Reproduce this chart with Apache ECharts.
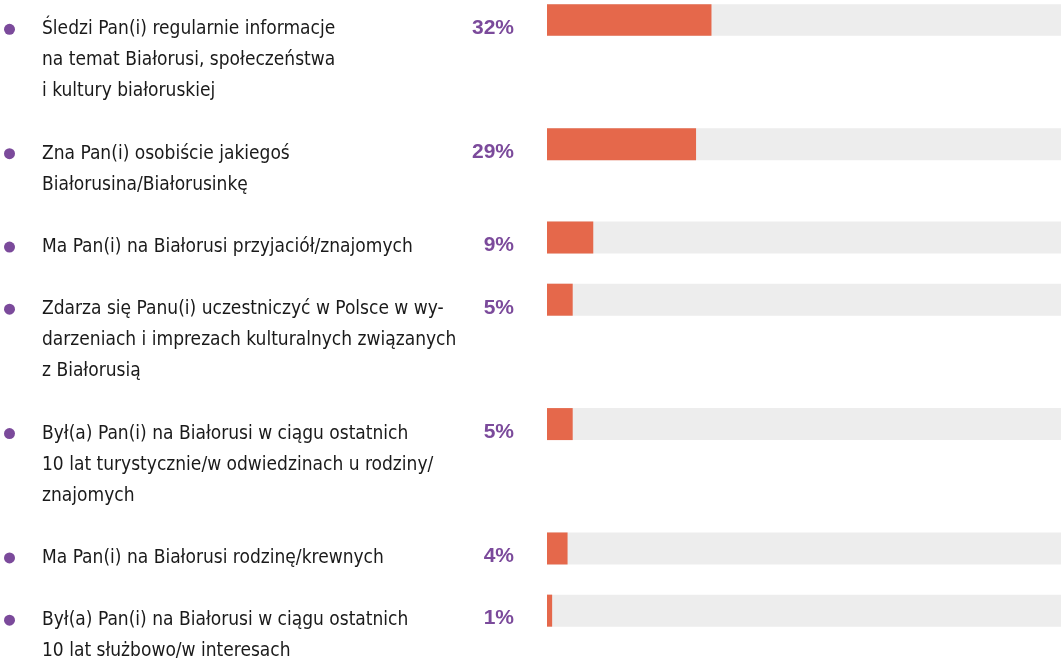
<!DOCTYPE html>
<html>
<head>
<meta charset="utf-8">
<script src="https://cdn.jsdelivr.net/npm/echarts@6/dist/echarts.min.js"></script>
<style>
html,body{margin:0;padding:0;background:#fff;}
#chart{width:1062px;height:659px;}
</style>
</head>
<body>
<div id="chart"></div>
<script>
// Category labels (each item split into its printed lines)
var itemLines = [
  ["Śledzi Pan(i) regularnie informacje", "na temat Białorusi, społeczeństwa", "i kultury białoruskiej"],
  ["Zna Pan(i) osobiście jakiegoś", "Białorusina/Białorusinkę"],
  ["Ma Pan(i) na Białorusi przyjaciół/znajomych"],
  ["Zdarza się Panu(i) uczestniczyć w Polsce w wy-", "darzeniach i imprezach kulturalnych związanych", "z Białorusią"],
  ["Był(a) Pan(i) na Białorusi w ciągu ostatnich", "10 lat turystycznie/w odwiedzinach u rodziny/", "znajomych"],
  ["Ma Pan(i) na Białorusi rodzinę/krewnych"],
  ["Był(a) Pan(i) na Białorusi w ciągu ostatnich", "10 lat służbowo/w interesach"]
];
// Percentages
var values = [32, 29, 9, 5, 5, 4, 1];
// Scale maximum (full track)
var trackMax = 100;

// Build line slots: each printed line is one category slot, one blank slot between items
var slotIds = [];
var slotText = [];
var slotValues = [];
var slotTrack = [];
itemLines.forEach(function (lines, i) {
  lines.forEach(function (ln, j) {
    slotIds.push('s' + slotIds.length);
    slotText.push(j === 0 ? '{dot|}{t|' + ln + '}' : '{c|' + ln + '}');
    slotValues.push(j === 0 ? values[i] : '-');
    slotTrack.push(j === 0 ? trackMax : '-');
  });
  if (i < itemLines.length - 1) {
    slotIds.push('s' + slotIds.length);
    slotText.push('');
    slotValues.push('-');
    slotTrack.push('-');
  }
});

var purple = '#7b4a9b';
var textFont = '"Liberation Sans Narrow", "DejaVu Sans Condensed", sans-serif';
var textSize = 19;

var chart = echarts.init(document.getElementById('chart'), null, {renderer: 'canvas'});
chart.setOption({
  animation: false,
  grid: {left: 547, right: 1, top: 4.3, height: 653, containLabel: false, outerBoundsMode: 'none'},
  xAxis: {
    type: 'value', min: 0, max: trackMax, show: false
  },
  yAxis: {
    type: 'category',
    inverse: true,
    data: slotIds,
    axisLine: {show: false},
    axisTick: {show: false},
    splitLine: {show: false},
    axisLabel: {
      interval: 0,
      align: 'left',
      margin: 547,
      padding: [19, 0, 0, 4],
      fontFamily: textFont,
      fontSize: textSize,
      color: '#1a1a1a',
      formatter: function (v, idx) { return slotText[idx]; },
      rich: {
        dot: {width: 11, height: 11, borderRadius: 5.5, backgroundColor: purple},
        t: {fontFamily: textFont, fontSize: textSize, color: '#1a1a1a', padding: [0, 0, 0, 27]},
        c: {fontFamily: textFont, fontSize: textSize, color: '#1a1a1a', padding: [0, 0, 0, 38]}
      }
    }
  },
  series: [{
    type: 'bar',
    data: slotTrack,
    barWidth: 32,
    silent: true,
    itemStyle: {color: '#ededed'},
    z: 1
  }, {
    type: 'bar',
    data: slotValues,
    barWidth: 32,
    barGap: '-100%',
    itemStyle: {color: '#e5684b'},
    z: 2,
    label: {
      show: true,
      position: 'left',
      distance: 33,
      offset: [0, 8],
      formatter: '{c}%',
      fontFamily: '"Liberation Sans", Arial, sans-serif',
      fontWeight: 'bold',
      fontSize: 21,
      color: purple
    }
  }]
});
</script>
</body>
</html>
